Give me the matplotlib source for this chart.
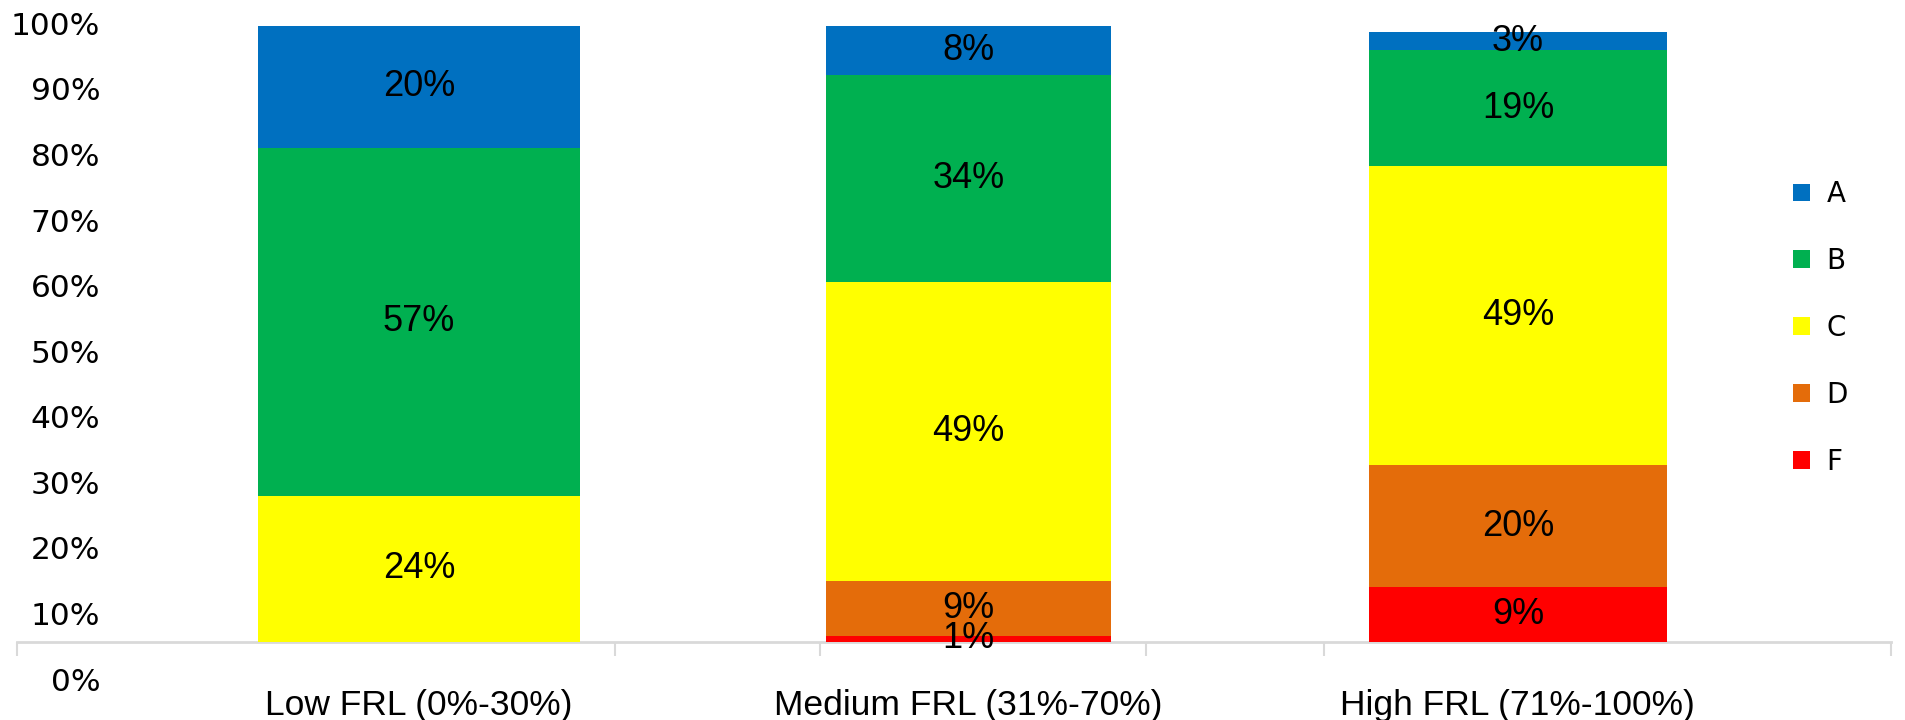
import numpy as np
import matplotlib.pyplot as plt

# data (percent)
categories = ['Low FRL (0%-30%)', 'Medium FRL (31%-70%)', 'High FRL (71%-100%)']
grades = ['F', 'D', 'C', 'B', 'A']
F = [0, 1, 9]
D = [0, 9, 20]
C = [24, 49, 49]
B = [57, 34, 19]
A = [20, 8, 3]
values = {'F': F, 'D': D, 'C': C, 'B': B, 'A': A}
colors = {'A': '#0070C0', 'B': '#00B050', 'C': '#FFFF00', 'D': '#E46C0A', 'F': '#FF0000'}
ytick_labels = ['%d%%' % v for v in range(0, 101, 10)]

bar_widths = [0.587, 0.52, 0.543]
x = np.arange(len(categories))

fig = plt.figure(figsize=(19.05, 7.2), dpi=100)
ax = fig.add_axes([17 / 1905, 35.3 / 720, 1874 / 1905, 664.9 / 720])

bottom = np.zeros(len(categories))
handles = []
for g in grades:
    vals = np.array(values[g], dtype=float)
    bars = ax.bar(x, vals, bar_widths, bottom=bottom, color=colors[g], label=g, zorder=2)
    labels = ['%d%%' % v if v > 0 else '' for v in vals]
    ax.bar_label(bars, labels=labels, label_type='center', fontsize=26,
                 family='Liberation Sans', color='black')
    handles.append(bars)
    bottom += vals

ax.set_xlim(-0.7316, 2.679)
ax.set_ylim(-7, 102)

# axis line sits at 0 with light gray separator marks hanging below it
for s in ['top', 'right', 'left']:
    ax.spines[s].set_visible(False)
ax.spines['bottom'].set_position(('data', 0))
ax.spines['bottom'].set_color('#D9D9D9')
ax.spines['bottom'].set_linewidth(2)
ax.spines['bottom'].set_zorder(1)

ax.set_xticks(x)
ax.set_xticklabels(categories, fontsize=25.5, family='Liberation Sans')
ax.tick_params(axis='x', which='major', length=0, pad=33.5)
ax.set_xticks([-0.7316, 0.357, 0.730, 1.323, 1.647, 2.679], minor=True)
ax.tick_params(axis='x', which='minor', length=10, width=1.5, color='#D9D9D9', direction='out')

# the y labels in the source drift from the bar scale
ax.set_yticks(np.arange(11) * 10.75 - 6.07)
ax.set_yticklabels(ytick_labels, fontsize=22.5, family='DejaVu Sans')
ax.tick_params(axis='y', length=0, pad=-60)
for t in ax.get_yticklabels():
    t.set_horizontalalignment('right')

leg = ax.legend(handles[::-1], grades[::-1], loc='center left',
                bbox_to_anchor=(1793 / 1905, (720 - 328) / 720), bbox_transform=fig.transFigure,
                frameon=False, handlelength=0.61, handleheight=0.61,
                handletextpad=0.6, labelspacing=1.4, borderpad=0, borderaxespad=0,
                prop={'family': 'DejaVu Sans', 'size': 20})

fig.savefig('out.png', dpi=100)
